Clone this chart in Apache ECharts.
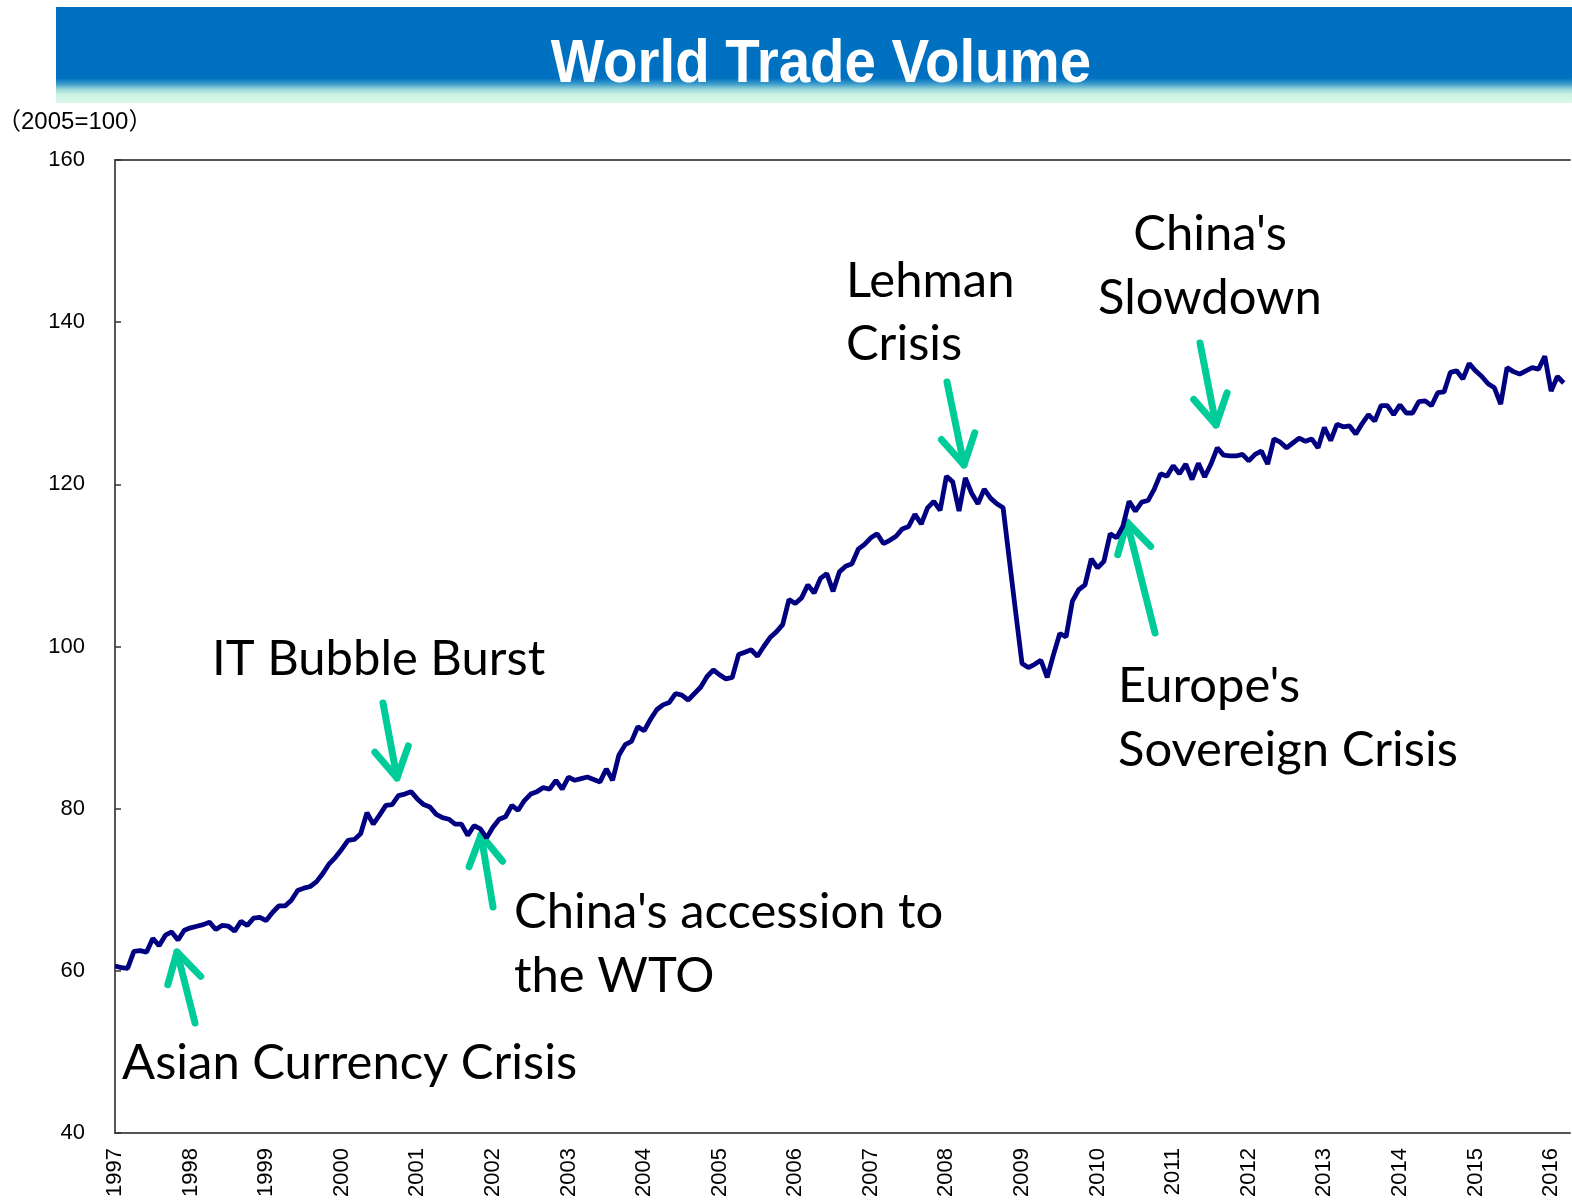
<!DOCTYPE html>
<html>
<head>
<meta charset="utf-8">
<title>World Trade Volume</title>
<script src="https://cdn.jsdelivr.net/npm/echarts@6/dist/echarts.min.js"></script>
<style>
  html, body { margin: 0; padding: 0; background: #fff; }
  #chart { width: 1572px; height: 1202px; }
</style>
</head>
<body>
<div id="chart"></div>
<script>
// monthly index, 2005=100
const years = [1997, 1998, 1999, 2000, 2001, 2002, 2003, 2004, 2005, 2006,
  2007, 2008, 2009, 2010, 2011, 2012, 2013, 2014, 2015, 2016]
const v1997 = [60.6, 60.4, 60.3, 62.4, 62.5, 62.3, 64.0, 63.1, 64.4, 64.8, 63.8, 65.0]
const v1998 = [65.3, 65.5, 65.7, 66.0, 65.1, 65.6, 65.5, 64.9, 66.1, 65.6, 66.5, 66.6]
const v1999 = [66.2, 67.2, 68.0, 68.0, 68.7, 69.9, 70.2, 70.4, 71.0, 72.0, 73.2, 74.0]
const v2000 = [75.0, 76.1, 76.2, 76.9, 79.5, 78.1, 79.2, 80.4, 80.5, 81.6, 81.8, 82.1]
const v2001 = [81.2, 80.5, 80.2, 79.3, 78.9, 78.7, 78.1, 78.1, 76.7, 77.9, 77.5, 76.4]
const v2002 = [77.7, 78.7, 79.0, 80.4, 79.8, 81.0, 81.8, 82.1, 82.6, 82.4, 83.5, 82.4]
const v2003 = [83.9, 83.5, 83.7, 83.9, 83.6, 83.3, 84.9, 83.5, 86.6, 87.9, 88.3, 90.1]
const v2004 = [89.6, 91.0, 92.2, 92.8, 93.1, 94.2, 94.0, 93.4, 94.2, 95.0, 96.3, 97.1]
const v2005 = [96.5, 96.0, 96.2, 99.0, 99.3, 99.6, 98.8, 100.0, 101.1, 101.8, 102.7, 105.8]
const v2006 = [105.3, 106.0, 107.6, 106.6, 108.4, 109.0, 106.8, 109.2, 109.9, 110.2, 112.0, 112.6]
const v2007 = [113.4, 113.9, 112.7, 113.1, 113.6, 114.5, 114.8, 116.3, 115.1, 117.1, 117.9, 116.8]
const v2008 = [121.0, 120.3, 116.7, 120.8, 118.9, 117.6, 119.4, 118.3, 117.6, 117.1, 110.6, 104.2]
const v2009 = [97.9, 97.4, 97.8, 98.3, 96.2, 99.0, 101.6, 101.2, 105.6, 107.0, 107.6, 110.8]
const v2010 = [109.7, 110.5, 113.9, 113.4, 114.8, 117.9, 116.7, 117.8, 118.0, 119.4, 121.3, 121.0]
const v2011 = [122.3, 121.3, 122.5, 120.6, 122.6, 120.9, 122.5, 124.5, 123.6, 123.5, 123.5, 123.7]
const v2012 = [122.9, 123.7, 124.1, 122.5, 125.6, 125.2, 124.5, 125.1, 125.7, 125.3, 125.6, 124.5]
const v2013 = [127.0, 125.4, 127.4, 127.1, 127.2, 126.2, 127.5, 128.6, 127.8, 129.7, 129.7, 128.6]
const v2014 = [129.8, 128.8, 128.8, 130.2, 130.3, 129.7, 131.3, 131.4, 133.8, 134.0, 133.0, 134.9]
const v2015 = [134.0, 133.3, 132.4, 131.9, 129.9, 134.4, 133.9, 133.6, 134.0, 134.4, 134.2, 135.8]
const v2016 = [131.5, 133.3, 132.5]

const yTicks = [40, 60, 80, 100, 120, 140, 160]

const volume = [].concat(v1997, v1998, v1999, v2000, v2001, v2002, v2003, v2004,
  v2005, v2006, v2007, v2008, v2009, v2010, v2011, v2012, v2013, v2014, v2015, v2016)

// month categories; the axis runs one month past the last observation
const months = []
years.forEach(y => {
  for (let m = 1; m <= 12; m++) months.push(y + '-' + String(m).padStart(2, '0'))
})
const categories = months.slice(0, volume.length + 1)

const GREEN = '#00CC99'

// arrow annotation: shaft + open chevron head
function arrow(tail, tip) {
  const ang = Math.atan2(tail[1] - tip[1], tail[0] - tip[0])
  const len = 34
  const spread = 30 * Math.PI / 180
  const a1 = [tip[0] + len * Math.cos(ang + spread), tip[1] + len * Math.sin(ang + spread)]
  const a2 = [tip[0] + len * Math.cos(ang - spread), tip[1] + len * Math.sin(ang - spread)]
  const style = { stroke: GREEN, lineWidth: 7, fill: null, lineCap: 'round', lineJoin: 'round' }
  return [
    { type: 'polyline', shape: { points: [tail, tip] }, style: style },
    { type: 'polyline', shape: { points: [a1, tip, a2] }, style: style }
  ]
}

const NOTE_SIZE = 48
function note(text, x, baseline, align) {
  return {
    type: 'text',
    x: x,
    y: baseline - NOTE_SIZE * 0.33,
    scaleX: 1.02,
    style: {
      text: text,
      fontSize: NOTE_SIZE,
      fontFamily: 'Lato, "Open Sans", sans-serif',
      fill: '#000',
      textAlign: align || 'left',
      textVerticalAlign: 'middle'
    }
  }
}

const chart = echarts.init(document.getElementById('chart'))

const option = {
  backgroundColor: '#fff',
  animation: false,
  grid: { left: 115, right: 2, top: 160, bottom: 69 },
  xAxis: [
    {
      type: 'category',
      data: categories,
      boundaryGap: false,
      axisLine: { show: true, lineStyle: { color: '#555', width: 2 } },
      axisTick: { show: false },
      splitLine: { show: false },
      axisLabel: {
        interval: (i) => i % 12 === 0,
        formatter: (v) => v.slice(0, 4),
        rotate: 90,
        margin: 15,
        color: '#000',
        fontSize: 22,
        fontFamily: '"Liberation Sans", Arial, sans-serif'
      }
    },
    {
      type: 'category',
      data: categories,
      position: 'top',
      boundaryGap: false,
      axisLine: { show: true, lineStyle: { color: '#555', width: 2 } },
      axisTick: { show: false },
      axisLabel: { show: false },
      splitLine: { show: false }
    }
  ],
  yAxis: {
    type: 'value',
    min: yTicks[0],
    max: yTicks[yTicks.length - 1],
    interval: 20,
    axisLine: { show: true, lineStyle: { color: '#555', width: 2 } },
    axisTick: { show: true, inside: true, length: 6, lineStyle: { color: '#333', width: 1.5 } },
    splitLine: { show: false },
    axisLabel: {
      margin: 30,
      color: '#000',
      fontSize: 22,
      fontFamily: '"Liberation Sans", Arial, sans-serif'
    }
  },
  series: [
    {
      name: 'World Trade Volume',
      type: 'line',
      data: volume,
      symbol: 'none',
      smooth: false,
      lineStyle: { color: '#000080', width: 4.8 },
      z: 3
    }
  ],
  graphic: [
    {
      type: 'rect',
      shape: { x: 56, y: 7, width: 1516, height: 96 },
      style: {
        fill: new echarts.graphic.LinearGradient(0, 0, 0, 1, [
          { offset: 0, color: '#0070C0' },
          { offset: 0.74, color: '#0070C0' },
          { offset: 0.80, color: '#3C9BCB' },
          { offset: 0.86, color: '#9EDAD9' },
          { offset: 0.91, color: '#C8F2E2' },
          { offset: 1, color: '#DDFAEC' }
        ])
      },
      silent: true
    },
    {
      type: 'text',
      x: 821,
      y: 65,
      scaleX: 0.91,
      style: {
        text: 'World Trade Volume',
        fontSize: 62,
        fontWeight: 'bold',
        fontFamily: '"Liberation Sans", Arial, sans-serif',
        fill: '#fff',
        textAlign: 'center',
        textVerticalAlign: 'middle'
      }
    },
    {
      type: 'text',
      x: -3,
      y: 122,
      style: {
        text: '（2005=100）',
        fontSize: 24,
        fontFamily: '"Liberation Sans", "Noto Sans CJK JP", sans-serif',
        fill: '#000',
        textVerticalAlign: 'middle'
      }
    },
    note('Asian Currency Crisis', 122, 1079),
    note('IT Bubble Burst', 212, 675),
    note("China's accession to", 514, 928),
    note('the WTO', 514, 992),
    note('Lehman', 846, 297),
    note('Crisis', 846, 360),
    note("China's", 1210, 250, 'center'),
    note('Slowdown', 1210, 314, 'center'),
    note("Europe's", 1118, 702),
    note('Sovereign Crisis', 1118, 766)
  ].concat(
    arrow([195, 1023], [177, 952]),
    arrow([383, 703], [397, 778]),
    arrow([493, 907], [481, 835]),
    arrow([947, 382], [964, 465]),
    arrow([1200, 343], [1216, 425]),
    arrow([1155, 633], [1127, 522])
  )
}

chart.setOption(option)
window.addEventListener('resize', () => chart.resize())
</script>
</body>
</html>
